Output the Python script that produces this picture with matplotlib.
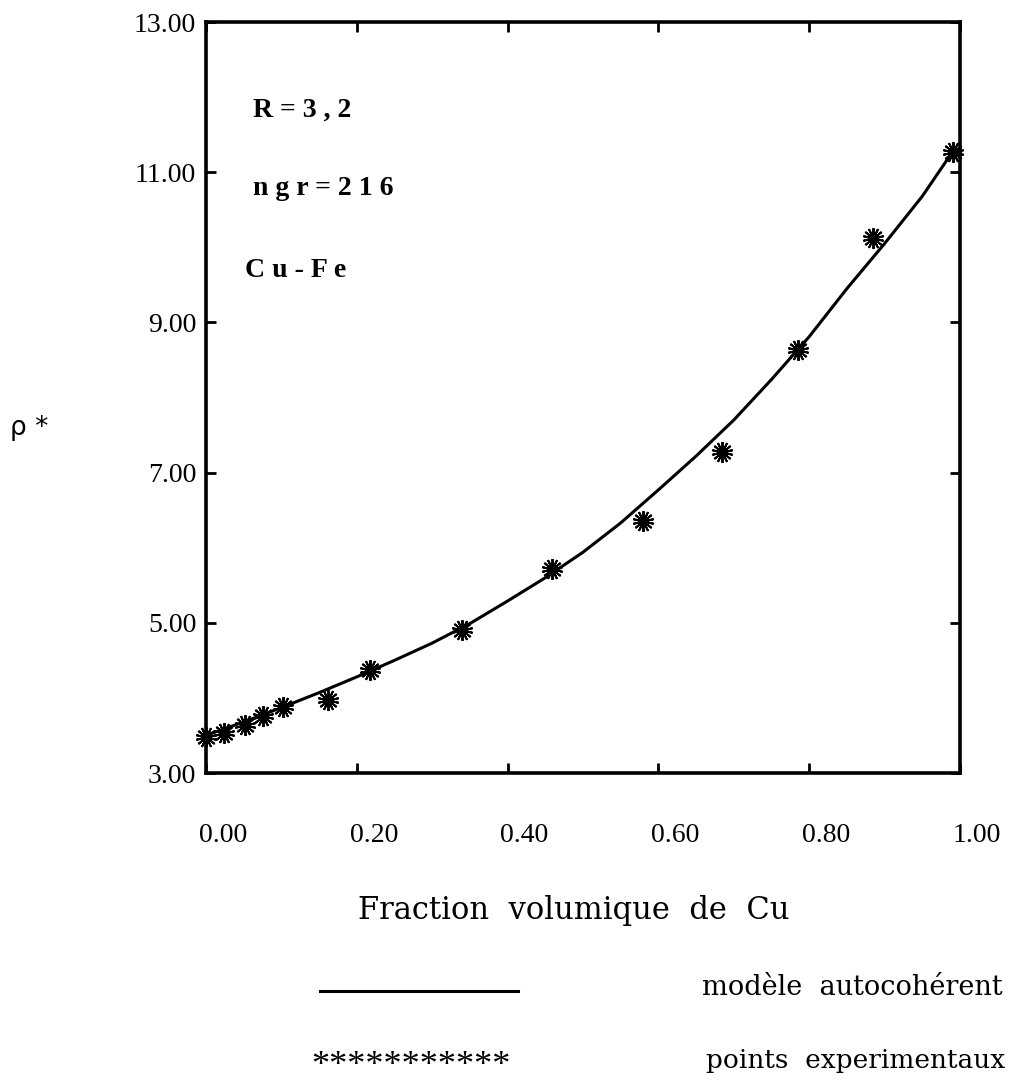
import numpy as np
import matplotlib
matplotlib.use("Agg")
import matplotlib.pyplot as plt
from matplotlib.lines import Line2D
from matplotlib.transforms import ScaledTranslation

# volume fraction of Cu / reduced resistivity
model_x = [0.00, 0.05, 0.10, 0.15, 0.20, 0.25, 0.30, 0.35, 0.40, 0.45, 0.50,
           0.55, 0.60, 0.65, 0.70, 0.75, 0.80, 0.85, 0.90, 0.95, 0.99]
model_y = [3.50, 3.68, 3.87, 4.07, 4.28, 4.50, 4.73, 4.99, 5.29, 5.60, 5.94,
           6.33, 6.77, 7.22, 7.70, 8.24, 8.81, 9.45, 10.05, 10.68, 11.27]

exp_x = [0.0, 0.024, 0.052, 0.076, 0.102, 0.162, 0.217, 0.34, 0.459,
         0.58, 0.684, 0.785, 0.885, 0.991]
exp_y = [3.48, 3.53, 3.64, 3.76, 3.88, 3.97, 4.37, 4.90, 5.72,
         6.36, 7.27, 8.63, 10.12, 11.27]

x_ticks = [0.0, 0.2, 0.4, 0.6, 0.8, 1.0]
y_ticks = [3, 5, 7, 9, 11, 13]

W, H = 1024, 1082
fig = plt.figure(figsize=(W / 100, H / 100), dpi=100)


def fx(px):
    return px / W


def fy(py):
    return 1 - py / H


ax = fig.add_axes([fx(206), fy(773), fx(960) - fx(206), fy(22) - fy(773)])

ax.plot(model_x, model_y, color="black", lw=2.2, solid_capstyle="round")
ax.plot(exp_x, exp_y, ls="none", marker=(14, 2, 0), ms=15, mew=1.4,
        color="black", clip_on=False)
ax.plot(exp_x, exp_y, ls="none", marker="o", ms=6, color="black", clip_on=False)

ax.set_xlim(0, 1)
ax.set_ylim(3, 13)
for s in ax.spines.values():
    s.set_linewidth(2.6)

ax.set_xticks(x_ticks)
ax.set_xticklabels(["%.2f" % v for v in x_ticks])
ax.set_yticks(y_ticks)
ax.set_yticklabels(["%.2f" % v for v in y_ticks])
ax.tick_params(direction="in", length=7, width=2, top=True, right=True,
               labelsize=20)
ax.tick_params(axis="x", pad=36)
ax.tick_params(axis="y", pad=7)
for lab in ax.get_xticklabels() + ax.get_yticklabels():
    lab.set_fontfamily("Liberation Serif")
# labels in the original sit slightly right of their ticks
shift = ScaledTranslation(0.17, 0, fig.dpi_scale_trans)
for t in ax.xaxis.get_major_ticks():
    t.label1.set_transform(t.label1.get_transform() + shift)

# annotations inside the frame
bold = dict(family="Liberation Serif", fontweight="bold", fontsize=20,
            va="baseline", ha="left")
fig.text(fx(253), fy(117), " ".join("R=3,2"), **bold)
fig.text(fx(253), fy(195), " ".join("ngr=216"), **bold)
fig.text(fx(245), fy(277), " ".join("Cu-Fe"), **bold)

fig.text(fx(10), fy(435), "ρ *", family="DejaVu Sans", fontsize=19,
         va="baseline", ha="left")

fig.text(fx(358), fy(919), "Fraction  volumique  de  Cu", family="DejaVu Serif",
         fontsize=22, va="baseline", ha="left")

# legend
fig.add_artist(Line2D([fx(320), fx(518)], [fy(991), fy(991)], color="black",
                      lw=2.2, transform=fig.transFigure))
fig.text(fx(702), fy(995), "modèle  autocohérent", family="DejaVu Serif",
         fontsize=19.5, va="baseline", ha="left")
fig.text(fx(311), fy(1067), "*" * 11, family="Liberation Serif", fontsize=26,
         va="center", ha="left")
fig.text(fx(706), fy(1068), "points  experimentaux", family="DejaVu Serif",
         fontsize=19, va="baseline", ha="left")

fig.savefig("out.png", dpi=100)
